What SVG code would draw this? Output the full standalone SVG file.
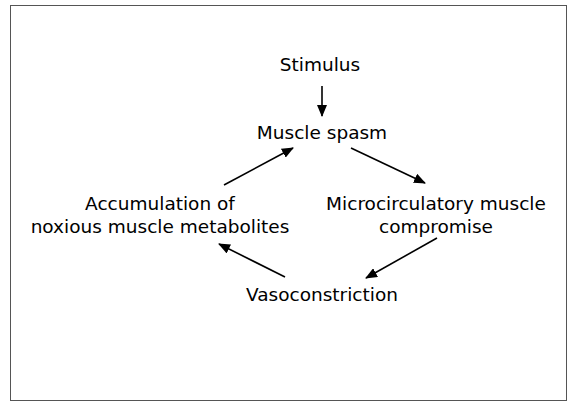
<svg xmlns="http://www.w3.org/2000/svg" width="576" height="406" viewBox="0 0 576 406">
<defs>
<style>
.lbl{font-family:"DejaVu Sans","Liberation Sans",sans-serif;font-size:18.5px;fill:#000;text-anchor:middle}
.edge{stroke:#000;stroke-width:1.6;fill:none}
</style>
<marker id="ah" markerUnits="userSpaceOnUse" markerWidth="12" markerHeight="10" refX="11" refY="5" orient="auto">
<path d="M0,0 L12,5 L0,10 Z" fill="#000"/>
</marker>
</defs>
<rect x="0" y="0" width="576" height="406" fill="#fff"/>
<rect x="10.5" y="5.5" width="556" height="395" fill="none" stroke="#555" stroke-width="1"/>
<g id="connectors">
<line class="edge" x1="322" y1="86" x2="322" y2="116" marker-end="url(#ah)"/>
<line class="edge" x1="351" y1="148" x2="425" y2="183" marker-end="url(#ah)"/>
<line class="edge" x1="437" y1="238" x2="366" y2="278" marker-end="url(#ah)"/>
<line class="edge" x1="285" y1="277" x2="219" y2="244" marker-end="url(#ah)"/>
<line class="edge" x1="224" y1="185" x2="293" y2="148" marker-end="url(#ah)"/>
</g>
<g id="node-stimulus"><text class="lbl" x="320" y="71">Stimulus</text></g>
<g id="node-spasm"><text class="lbl" x="322" y="139">Muscle spasm</text></g>
<g id="node-accumulation"><text class="lbl" x="160" y="210">Accumulation of</text><text class="lbl" x="160" y="233">noxious muscle metabolites</text></g>
<g id="node-microcirculatory"><text class="lbl" x="436" y="210">Microcirculatory muscle</text><text class="lbl" x="436" y="233">compromise</text></g>
<g id="node-vasoconstriction"><text class="lbl" x="322" y="301">Vasoconstriction</text></g>
</svg>
